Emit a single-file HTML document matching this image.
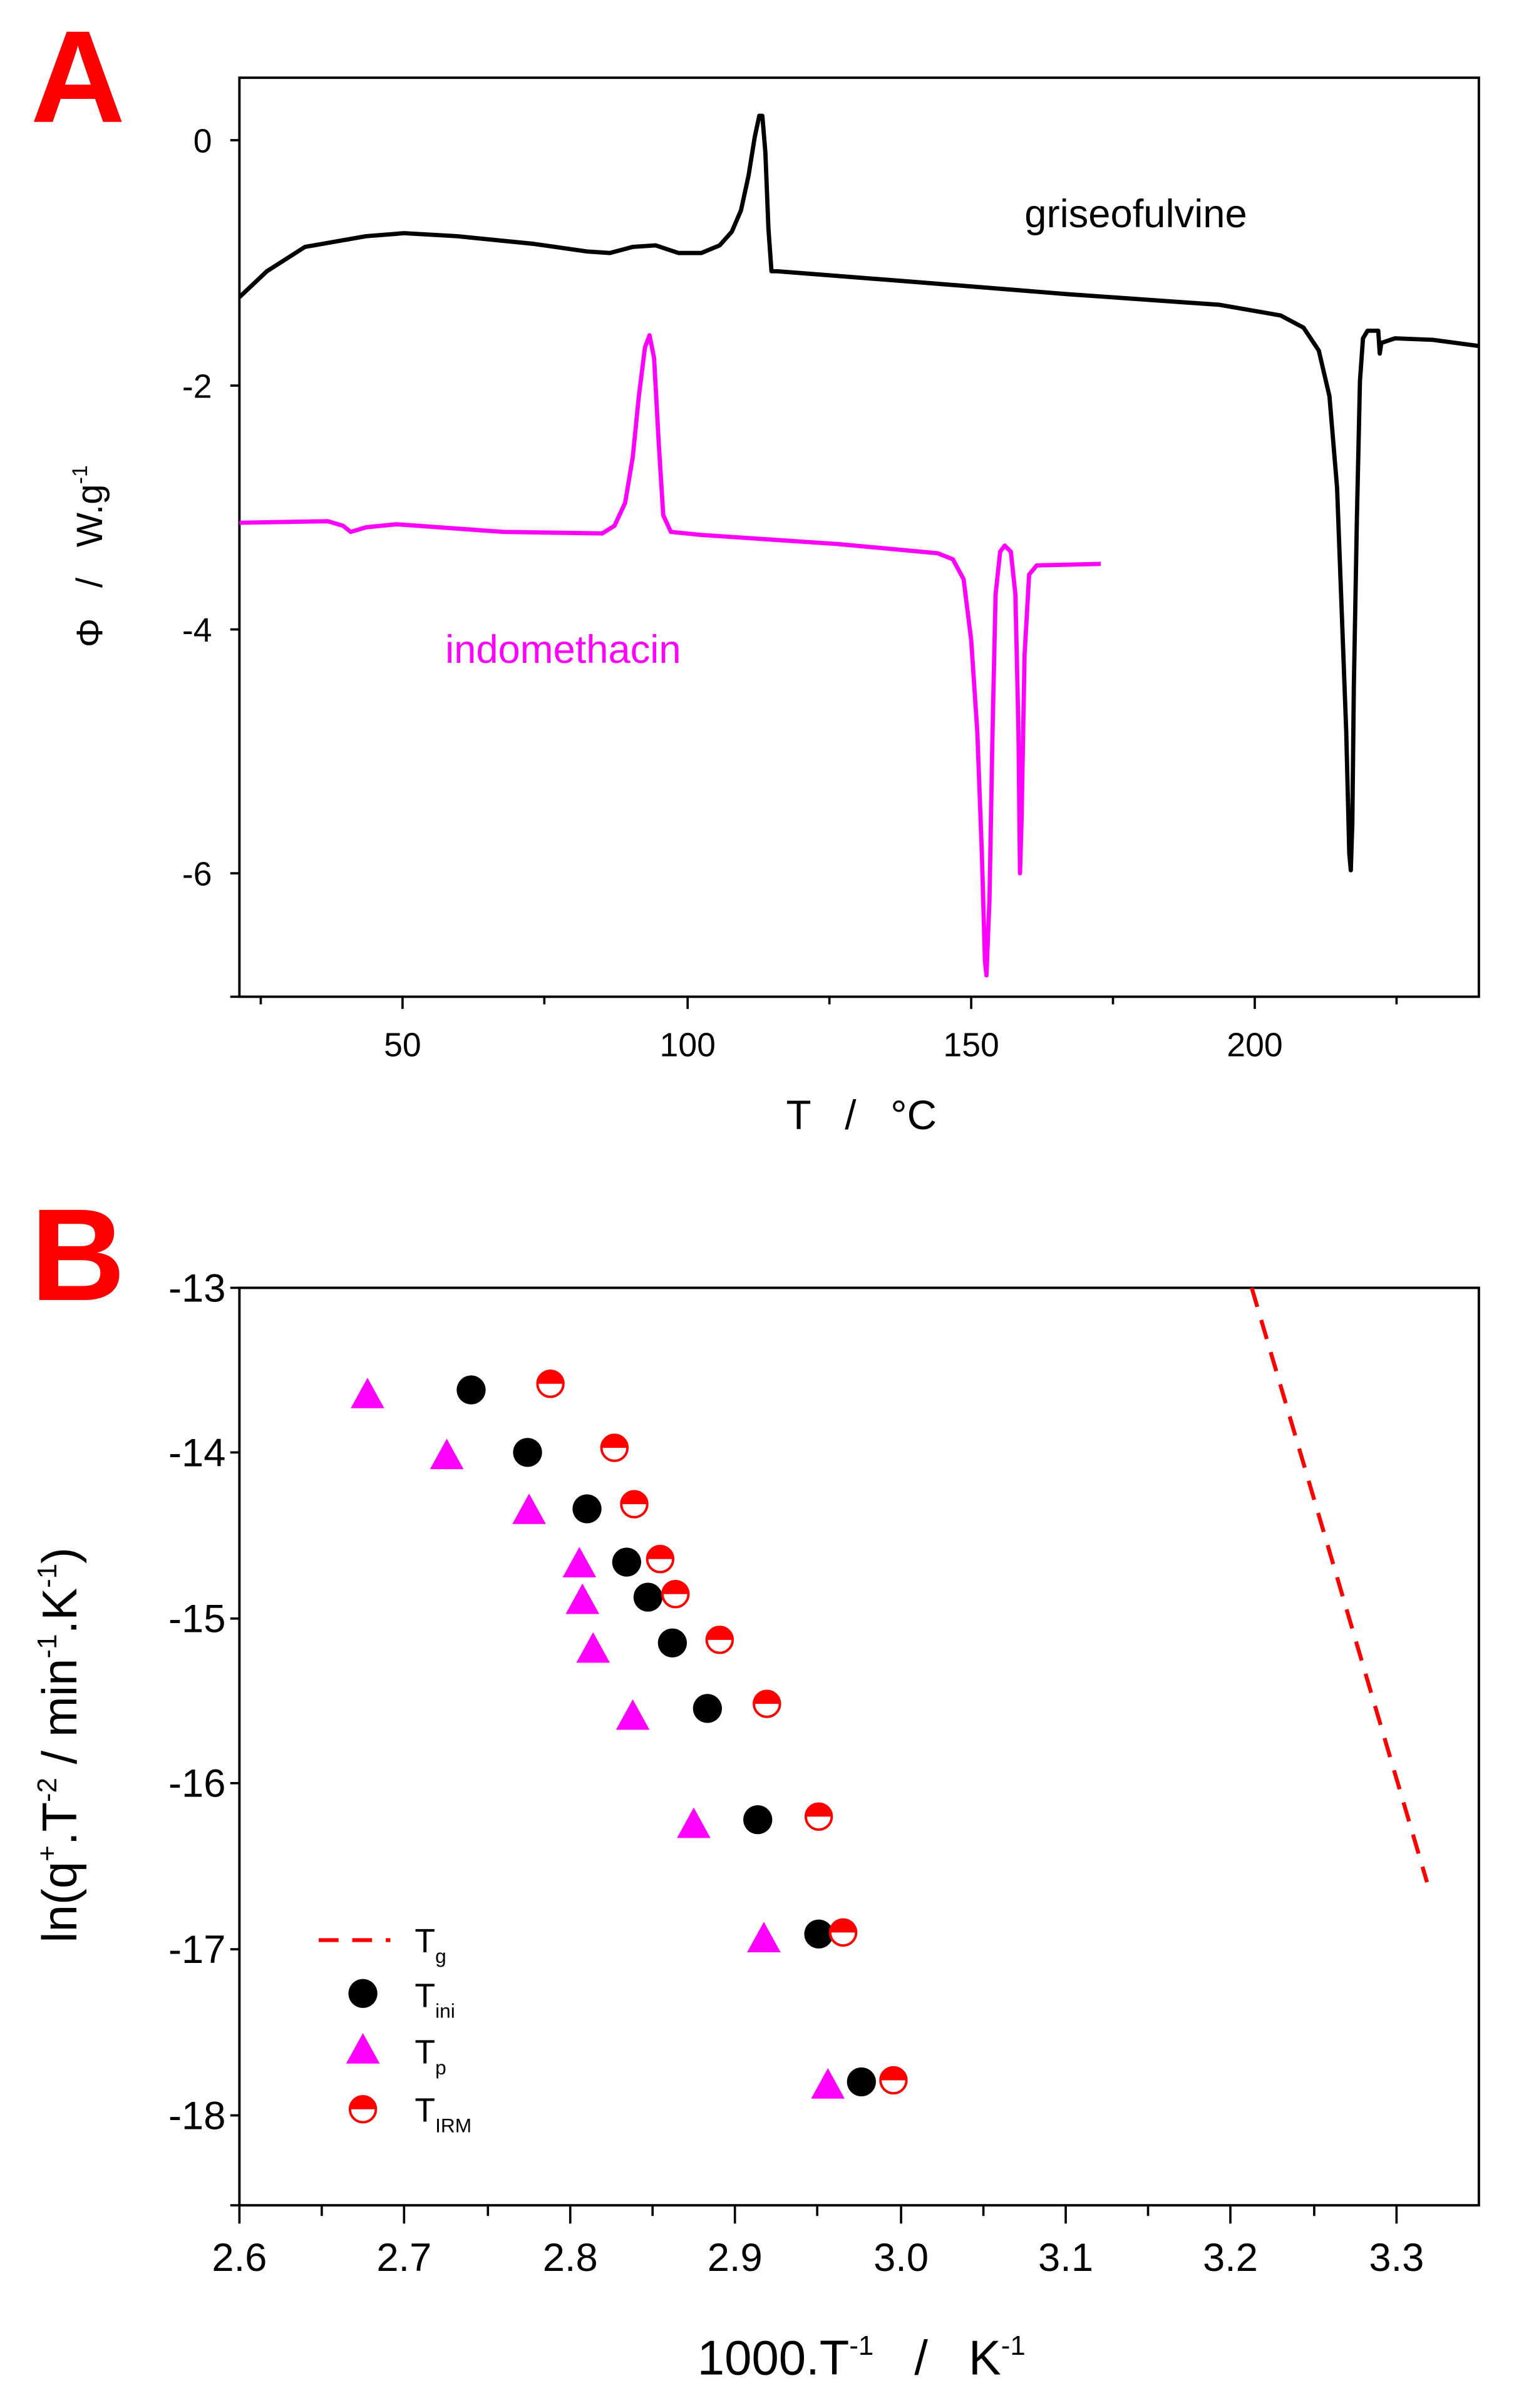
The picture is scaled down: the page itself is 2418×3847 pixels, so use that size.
<!DOCTYPE html>
<html><head><meta charset="utf-8"><style>
html,body{margin:0;padding:0;background:#fff;}
svg{display:block;}
text{font-family:"Liberation Sans",Arial,sans-serif;}
</style></head><body>
<svg width="2418" height="3847" viewBox="0 0 993 1580" xmlns="http://www.w3.org/2000/svg">
<rect width="993" height="1580" fill="#fff"/>
<!-- Panel A -->
<text x="20" y="80" font-size="86" font-weight="bold" fill="#ff0000">A</text>
<rect x="157" y="51" width="813" height="603" fill="none" stroke="#000" stroke-width="1.6"/>
<g stroke="#000" stroke-width="1.5">
<line x1="151" y1="92" x2="157" y2="92"/><line x1="151" y1="253" x2="157" y2="253"/>
<line x1="151" y1="413" x2="157" y2="413"/><line x1="151" y1="573" x2="157" y2="573"/>
<line x1="151" y1="654" x2="157" y2="654"/>
<line x1="264" y1="654" x2="264" y2="662"/><line x1="451" y1="654" x2="451" y2="662"/>
<line x1="637" y1="654" x2="637" y2="662"/><line x1="823" y1="654" x2="823" y2="662"/>
<line x1="171" y1="654" x2="171" y2="659"/><line x1="357" y1="654" x2="357" y2="659"/>
<line x1="544" y1="654" x2="544" y2="659"/><line x1="730" y1="654" x2="730" y2="659"/>
<line x1="916" y1="654" x2="916" y2="659"/>
</g>
<g font-size="22" fill="#000" text-anchor="end">
<text x="139" y="100">0</text><text x="139" y="261">-2</text>
<text x="139" y="421">-4</text><text x="139" y="581">-6</text>
</g>
<g font-size="22" fill="#000" text-anchor="middle">
<text x="264" y="693">50</text><text x="451" y="693">100</text>
<text x="637" y="693">150</text><text x="823" y="693">200</text>
</g>
<text x="565" y="741" font-size="27" text-anchor="middle" xml:space="preserve">T   /   °C</text>
<text transform="translate(67,365) rotate(-90)" font-size="24" text-anchor="middle" xml:space="preserve">Φ   /   W.g<tspan dy="-10" font-size="14">-1</tspan></text>
<polyline fill="none" stroke="#000" stroke-width="2.8" stroke-linejoin="round" points="157,195 175,178 200,162 240,155 265,153 300,155 350,160 385,165 400,166 415,162 430,161 445,166 460,166 472,161 480,152 486,138 491,115 495,90 498,76 500,76 502,100 504,150 506,178 510,178 600,185 700,193 800,200 840,207 855,215 865,230 872,260 877,320 880,400 883,480 885,560 886,571 887,540 888,450 890,340 892,250 894,222 897,217 904,217 905,232 906,225 915,222 940,223 970,227"/>
<polyline fill="none" stroke="#ff00ff" stroke-width="2.8" stroke-linejoin="round" points="157,343 215,342 225,345 230,349 240,346 260,344 330,349 395,350 403,345 410,330 415,300 419,260 423,228 426,220 429,235 432,290 435,338 440,349 460,351 550,357 615,363 625,367 632,380 637,420 641,480 644,560 646,630 647,640 649,590 651,480 653,390 656,362 659,358 663,362 666,390 668,480 669,573 670,540 672,430 675,377 680,371 722,370"/>
<text x="672" y="149" font-size="26" fill="#000">griseofulvine</text>
<text x="292" y="435" font-size="26" fill="#ff00ff">indomethacin</text>

<!-- Panel B -->
<text x="20" y="853" font-size="86" font-weight="bold" fill="#ff0000">B</text>
<rect x="157" y="845" width="813" height="602" fill="none" stroke="#000" stroke-width="1.6"/>
<g stroke="#000" stroke-width="1.5">
<line x1="151" y1="845" x2="157" y2="845"/><line x1="151" y1="953" x2="157" y2="953"/>
<line x1="151" y1="1062" x2="157" y2="1062"/><line x1="151" y1="1170" x2="157" y2="1170"/>
<line x1="151" y1="1279" x2="157" y2="1279"/><line x1="151" y1="1388" x2="157" y2="1388"/>
<line x1="151" y1="1447" x2="157" y2="1447"/>
<line x1="157" y1="1447" x2="157" y2="1459"/><line x1="265" y1="1447" x2="265" y2="1459"/>
<line x1="374" y1="1447" x2="374" y2="1459"/><line x1="482" y1="1447" x2="482" y2="1459"/>
<line x1="591" y1="1447" x2="591" y2="1459"/><line x1="699" y1="1447" x2="699" y2="1459"/>
<line x1="807" y1="1447" x2="807" y2="1459"/><line x1="916" y1="1447" x2="916" y2="1459"/>
<line x1="211" y1="1447" x2="211" y2="1454"/><line x1="320" y1="1447" x2="320" y2="1454"/>
<line x1="428" y1="1447" x2="428" y2="1454"/><line x1="536" y1="1447" x2="536" y2="1454"/>
<line x1="645" y1="1447" x2="645" y2="1454"/><line x1="753" y1="1447" x2="753" y2="1454"/>
<line x1="862" y1="1447" x2="862" y2="1454"/>
</g>
<g font-size="26" fill="#000" text-anchor="end">
<text x="148" y="854">-13</text><text x="148" y="962">-14</text><text x="148" y="1071">-15</text>
<text x="148" y="1179">-16</text><text x="148" y="1288">-17</text><text x="148" y="1397">-18</text>
</g>
<g font-size="26" fill="#000" text-anchor="middle">
<text x="157" y="1490">2.6</text><text x="265" y="1490">2.7</text><text x="374" y="1490">2.8</text>
<text x="482" y="1490">2.9</text><text x="591" y="1490">3.0</text><text x="699" y="1490">3.1</text>
<text x="807" y="1490">3.2</text><text x="916" y="1490">3.3</text>
</g>
<text x="565" y="1558" font-size="32" text-anchor="middle" xml:space="preserve">1000.T<tspan dy="-13" font-size="18">-1</tspan><tspan dy="13">   /   K</tspan><tspan dy="-13" font-size="18">-1</tspan></text>
<text transform="translate(50,1145) rotate(-90)" font-size="32" text-anchor="middle">ln(q<tspan dy="-13" font-size="18">+</tspan><tspan dy="13">.T</tspan><tspan dy="-13" font-size="18">-2</tspan><tspan dy="13"> / min</tspan><tspan dy="-13" font-size="18">-1</tspan><tspan dy="13">.K</tspan><tspan dy="-13" font-size="18">-1</tspan><tspan dy="13">)</tspan></text>
<line x1="821" y1="845" x2="936" y2="1235" stroke="#ff0000" stroke-width="2.6" stroke-dasharray="13,9"/>
<defs>
<path id="tri" d="M0,-11 L11,9 L-11,9 Z" fill="#ff00ff"/>
<circle id="dot" r="9.5" fill="#000"/>
<g id="half"><circle r="8.5" fill="#fff" stroke="#ff0000" stroke-width="1.6"/><path d="M-9.3,0 A9.3,9.3 0 0 1 9.3,0 Z" fill="#ff0000"/></g>
</defs>
<g>
<use href="#tri" x="241" y="915"/><use href="#tri" x="293" y="955"/><use href="#tri" x="347" y="991"/>
<use href="#tri" x="380" y="1026"/><use href="#tri" x="382" y="1050"/><use href="#tri" x="389" y="1082"/>
<use href="#tri" x="415" y="1126"/><use href="#tri" x="455" y="1197"/><use href="#tri" x="501" y="1272"/>
<use href="#tri" x="543" y="1368"/>
<use href="#dot" x="309" y="912"/><use href="#dot" x="346" y="953"/><use href="#dot" x="385" y="990"/>
<use href="#dot" x="411" y="1025"/><use href="#dot" x="425" y="1048"/><use href="#dot" x="441" y="1078"/>
<use href="#dot" x="464" y="1121"/><use href="#dot" x="497" y="1194"/><use href="#dot" x="537" y="1269"/>
<use href="#dot" x="565" y="1366"/>
<use href="#half" x="361" y="908"/><use href="#half" x="403" y="950"/><use href="#half" x="416" y="987"/>
<use href="#half" x="433" y="1023"/><use href="#half" x="443" y="1046"/><use href="#half" x="472" y="1076"/>
<use href="#half" x="503" y="1118"/><use href="#half" x="537" y="1192"/><use href="#half" x="553" y="1268"/>
<use href="#half" x="586" y="1365"/>
</g>
<!-- legend -->
<line x1="209" y1="1273" x2="256" y2="1273" stroke="#ff0000" stroke-width="2.6" stroke-dasharray="13,9"/>
<use href="#dot" x="238" y="1308"/>
<use href="#tri" x="238" y="1345"/>
<use href="#half" x="238" y="1384"/>
<g font-size="22" fill="#000">
<text x="272" y="1281">T<tspan dy="7" font-size="13">g</tspan></text>
<text x="272" y="1317">T<tspan dy="7" font-size="13">ini</tspan></text>
<text x="272" y="1354">T<tspan dy="7" font-size="13">p</tspan></text>
<text x="272" y="1392">T<tspan dy="7" font-size="13">IRM</tspan></text>
</g>
</svg>
</body></html>
